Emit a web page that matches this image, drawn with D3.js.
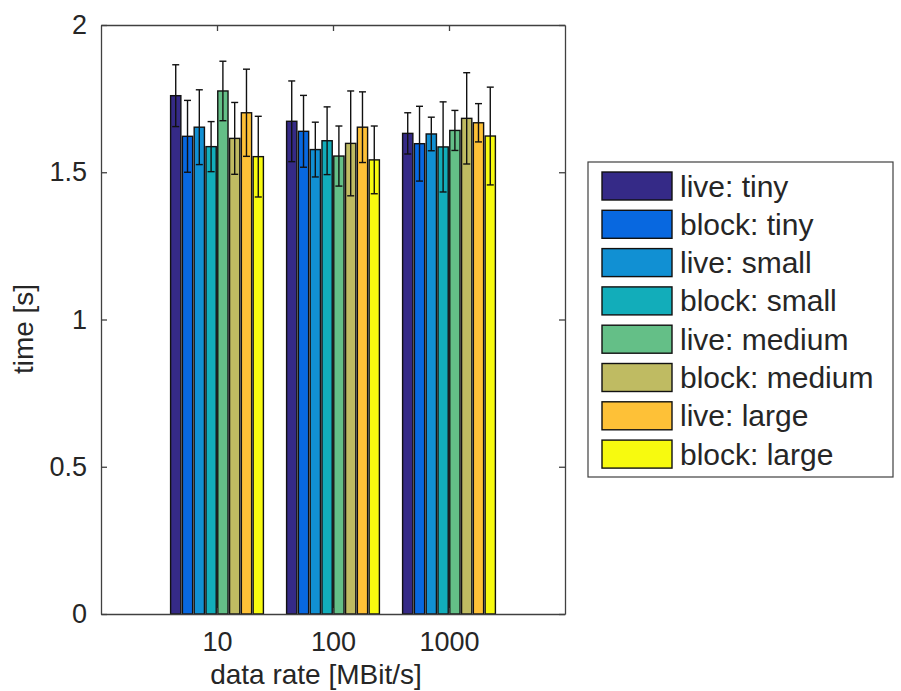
<!DOCTYPE html>
<html>
<head>
<meta charset="utf-8">
<script src="https://cdn.jsdelivr.net/npm/d3@7/dist/d3.min.js"></script>
<style>
  body { margin: 0; background: #fff; }
  text { font-family: "Liberation Sans", Arial, sans-serif; fill: #262626; }
</style>
</head>
<body>
<svg id="chart"></svg>
<script>
var rates = ["10", "100", "1000"]
var seriesNames = ["live: tiny", "block: tiny", "live: small", "block: small",
                   "live: medium", "block: medium", "live: large", "block: large"]
var colors = ["#352a87", "#0868e0", "#1190d3", "#12adba", "#64bf87", "#bfbb62", "#fec137", "#f7fa0f"]

// mean times per data rate, one value per series
var mean10   = [1.760, 1.622, 1.653, 1.587, 1.776, 1.615, 1.702, 1.553]
var mean100  = [1.673, 1.639, 1.577, 1.607, 1.555, 1.598, 1.653, 1.542]
var mean1000 = [1.632, 1.597, 1.630, 1.586, 1.642, 1.683, 1.668, 1.623]
// error bar half widths
var err10   = [0.105, 0.122, 0.127, 0.085, 0.101, 0.122, 0.148, 0.137]
var err100  = [0.137, 0.122, 0.093, 0.115, 0.102, 0.178, 0.120, 0.115]
var err1000 = [0.070, 0.127, 0.057, 0.153, 0.068, 0.155, 0.065, 0.166]

var yTicks = [0, 0.5, 1, 1.5, 2]

var means = [mean10, mean100, mean1000]
var errs = [err10, err100, err1000]

var data = []
rates.forEach(function(r, i) {
  seriesNames.forEach(function(s, j) {
    data.push({rate: r, pos: i + 1, name: s, idx: j, value: means[i][j], err: errs[i][j]})
  })
})

var width = 901, height = 691
var margin = { left: 101, right: 565, top: 25, bottom: 614 }
var axisColor = "#404040"

var svg = d3.select("#chart")
  .attr("width", width)
  .attr("height", height)

var x = d3.scaleLinear().domain([0, 4]).range([margin.left, margin.right])
var y = d3.scaleLinear().domain([0, 2]).range([margin.bottom, margin.top])
var inner = d3.scaleBand().domain(d3.range(seriesNames.length)).range([-0.4, 0.4]).paddingInner(0.13)

var bw = x(inner.bandwidth()) - x(0)

// bars
svg.append("g").selectAll("rect")
  .data(data)
  .enter()
  .append("rect")
  .attr("x", function(d) { return x(d.pos + inner(d.idx)) })
  .attr("y", function(d) { return y(d.value) })
  .attr("width", bw)
  .attr("height", function(d) { return y(0) - y(d.value) })
  .attr("fill", function(d) { return colors[d.idx] })
  .attr("stroke", "#111")
  .attr("stroke-width", 1.4)

// error bars
var eb = svg.append("g").attr("stroke", "#111").attr("stroke-width", 1.4)
var cx = function(d) { return x(d.pos + inner(d.idx) + inner.bandwidth() / 2) }
var cap = 3.5
eb.selectAll("line.v").data(data).enter().append("line")
  .attr("x1", cx).attr("x2", cx)
  .attr("y1", function(d) { return y(d.value - d.err) })
  .attr("y2", function(d) { return y(d.value + d.err) })
eb.selectAll("line.t").data(data).enter().append("line")
  .attr("x1", function(d) { return cx(d) - cap }).attr("x2", function(d) { return cx(d) + cap })
  .attr("y1", function(d) { return y(d.value + d.err) })
  .attr("y2", function(d) { return y(d.value + d.err) })
eb.selectAll("line.b").data(data).enter().append("line")
  .attr("x1", function(d) { return cx(d) - cap }).attr("x2", function(d) { return cx(d) + cap })
  .attr("y1", function(d) { return y(d.value - d.err) })
  .attr("y2", function(d) { return y(d.value - d.err) })

// axes (ticks point inward, mirrored on the box)
var tickLen = 6
var xAxis = svg.append("g")
  .attr("transform", "translate(0," + margin.bottom + ")")
  .call(d3.axisBottom(x).tickValues([1, 2, 3]).tickSizeInner(-tickLen).tickSizeOuter(0)
    .tickPadding(18).tickFormat(function(d) { return rates[d - 1] }))
var xTop = svg.append("g")
  .attr("transform", "translate(0," + margin.top + ")")
  .call(d3.axisTop(x).tickValues([1, 2, 3]).tickSizeInner(-tickLen).tickSizeOuter(0).tickFormat(""))
var yAxis = svg.append("g")
  .attr("transform", "translate(" + margin.left + ",0)")
  .call(d3.axisLeft(y).tickValues(yTicks).tickSizeInner(-tickLen).tickSizeOuter(0)
    .tickPadding(14).tickFormat(d3.format("")))
var yRight = svg.append("g")
  .attr("transform", "translate(" + margin.right + ",0)")
  .call(d3.axisRight(y).tickValues(yTicks).tickSizeInner(-tickLen).tickSizeOuter(0).tickFormat(""))

;[xAxis, xTop, yAxis, yRight].forEach(function(a) {
  a.select(".domain").attr("stroke", axisColor).attr("stroke-width", 1.3)
  a.selectAll(".tick line").attr("stroke", axisColor).attr("stroke-width", 1.3)
  a.selectAll("text").style("font-size", "27px").attr("fill", "#262626")
    .style("font-family", "'Liberation Sans', Arial, sans-serif")
})

// axis labels
svg.append("text")
  .attr("x", 316)
  .attr("y", 684)
  .attr("text-anchor", "middle")
  .style("font-size", "28px")
  .text("data rate [MBit/s]")
svg.append("text")
  .attr("transform", "translate(33,329) rotate(-90)")
  .attr("text-anchor", "middle")
  .style("font-size", "28px")
  .text("time [s]")

// legend
var lg = svg.append("g")
lg.append("rect")
  .attr("x", 588).attr("y", 162)
  .attr("width", 305).attr("height", 315)
  .attr("fill", "#fff")
  .attr("stroke", axisColor)
  .attr("stroke-width", 1.2)
var row = lg.selectAll("g.item")
  .data(seriesNames)
  .enter()
  .append("g")
  .attr("transform", function(d, i) { return "translate(0," + (186 + i * 38.3) + ")" })
row.append("rect")
  .attr("x", 602).attr("y", -14)
  .attr("width", 70).attr("height", 28)
  .attr("fill", function(d, i) { return colors[i] })
  .attr("stroke", "#111")
  .attr("stroke-width", 1.4)
row.append("text")
  .attr("x", 680)
  .attr("y", 10.5)
  .style("font-size", "30px")
  .attr("fill", "#000")
  .text(function(d) { return d })
</script>
</body>
</html>
